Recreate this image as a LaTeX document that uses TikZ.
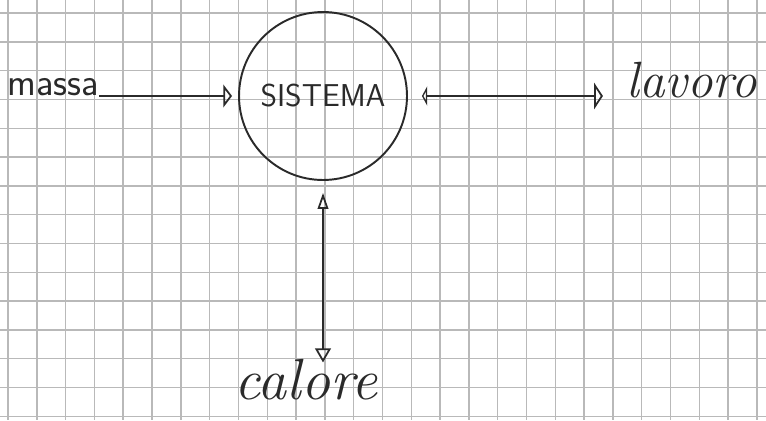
\documentclass[tikz,border=0pt]{standalone}
\usetikzlibrary{arrows.meta,positioning}
\definecolor{pink}{HTML}{2A2A2A}
\definecolor{pgrid}{HTML}{B9B9B9}
\begin{document}
\begin{tikzpicture}[x=0.02cm,y=-0.02cm,inner sep=0pt,gridline/.style={pgrid,line width=0.8pt},sysnode/.style={circle,draw=pink,line width=1.1pt,minimum size=3.36cm,font=\fontsize{18}{20}\sffamily,text=pink},lbl/.style={text=pink},arr/.style={pink,line width=1pt,-{Triangle[open,length=5pt,width=13pt]}},arrh/.style={pink,line width=1pt,{Triangle[open,length=3pt,width=11pt]}-{Triangle[open,length=5pt,width=15pt]}},arrv/.style={pink,line width=1pt,{Triangle[open,length=9pt,width=6pt]}-{Triangle[open,length=8pt,width=9pt]}}]
\useasboundingbox (0,0) rectangle (766,420);
\foreach \gx in {0,...,26} \draw[gridline] ({8+28.8*\gx},0) -- ({8+28.8*\gx},420);
\foreach \gy in {0,...,14} \draw[gridline] (0,{13+28.8*\gy}) -- (766,{13+28.8*\gy});
\node[sysnode] (sys) at (323,96) {SISTEMA};
\node[lbl,font=\fontsize{22}{24}\sffamily,left=2.78cm of sys,anchor=south east] (massa) {massa};
\node[lbl,font=\fontsize{29}{31}\itshape,right=4.36cm of sys,anchor=south west,yshift=-0.04cm] (lavoro) {lavoro};
\node[lbl,font=\fontsize{33}{35}\itshape,below=3.55cm of sys,xshift=-0.34cm] (calore) {calore};
\draw[arr,shorten >=0.12cm] (massa.south east) -- (sys.west);
\draw[arrh,shorten <=0.28cm,shorten >=0.46cm] (sys.east) -- (sys.east -| lavoro.west);
\draw[arrv,shorten <=0.24cm,shorten >=-0.08cm] (sys.south) -- (sys.south |- calore.north);
\end{tikzpicture}
\end{document}
